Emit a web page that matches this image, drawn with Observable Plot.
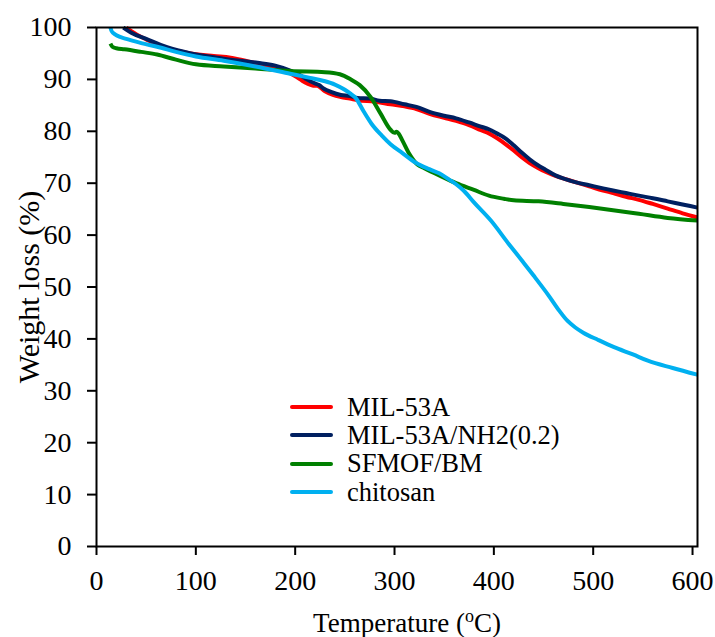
<!DOCTYPE html>
<html>
<head>
<meta charset="utf-8">
<script src="https://cdn.jsdelivr.net/npm/d3@7"></script>
<script src="https://cdn.jsdelivr.net/npm/@observablehq/plot@0.6"></script>
<style>
  body { margin: 0; background: #fff; }
  #chart { position: relative; width: 715px; height: 637px; font-family: "Liberation Serif", "Times New Roman", serif; }
  #legend { position: absolute; left: 290px; top: 393px; }
  .row { display: flex; align-items: center; height: 28.3px; font-size: 26.5px; color: #000; white-space: nowrap; }
  .sw { width: 43px; height: 4px; border-radius: 2px; margin-right: 14px; }
</style>
</head>
<body>
<div id="chart"><div id="legend"></div></div>
<script>
// Thermogravimetric curves: temperature (°C) vs remaining weight (%)
const seriesNames = ["MIL-53A", "MIL-53A/NH2(0.2)", "SFMOF/BM", "chitosan"];
const seriesColors = ["#ff0000", "#002060", "#008000", "#00b0f0"];

const milT = [30, 35, 50, 71, 95, 118, 135, 150, 162, 180, 195, 205, 212, 218, 222, 230, 238, 246, 255, 263, 280, 296, 310, 322, 336, 350, 362, 375, 387, 395, 403, 412, 420, 428, 436, 444, 452, 462, 472, 482, 496, 510, 520, 533, 546, 560, 575, 590, 605];
const milW = [100, 99.3, 97.7, 96.0, 95.0, 94.5, 94.2, 93.6, 93.0, 92.3, 91.2, 90.0, 89.2, 88.8, 88.8, 87.7, 87.0, 86.6, 86.3, 86.0, 85.7, 85.2, 84.8, 84.3, 83.3, 82.6, 82.0, 81.2, 80.2, 79.6, 78.7, 77.5, 76.3, 75.0, 73.9, 73.0, 72.2, 71.4, 70.8, 70.2, 69.4, 68.6, 68.1, 67.4, 66.8, 66.0, 65.1, 64.2, 63.4];

const nh2T = [27, 35, 50, 71, 95, 128, 162, 179, 195, 205, 212, 219, 224, 229, 236, 246, 255, 263, 275, 285, 296, 310, 322, 336, 350, 362, 375, 387, 395, 403, 412, 420, 428, 436, 444, 452, 462, 472, 482, 496, 510, 520, 533, 546, 560, 575, 590, 605];
const nh2W = [100, 99.0, 97.8, 96.2, 95.0, 94.0, 93.2, 92.7, 91.7, 90.8, 90.0, 89.3, 88.9, 88.2, 87.6, 87.0, 86.8, 86.4, 86.3, 85.9, 85.8, 85.2, 84.7, 83.7, 83.0, 82.5, 81.7, 80.9, 80.4, 79.6, 78.6, 77.3, 75.9, 74.6, 73.5, 72.6, 71.5, 70.8, 70.2, 69.6, 69.0, 68.6, 68.1, 67.6, 67.1, 66.5, 65.9, 65.3];

const sfT = [14, 16, 20, 28, 45, 61, 80, 100, 128, 160, 195, 230, 245, 256, 265, 276, 286, 296, 300, 302, 304, 308, 315, 323, 330, 345, 362, 380, 395, 410, 420, 445, 470, 496, 520, 546, 575, 605];
const sfW = [96.9, 96.3, 96.0, 95.8, 95.3, 94.8, 93.8, 92.9, 92.5, 92.1, 91.6, 91.4, 91.0, 90.0, 88.9, 86.6, 83.4, 80.3, 79.7, 79.9, 79.6, 78.2, 75.6, 73.6, 72.9, 71.5, 70.0, 68.7, 67.6, 67.0, 66.7, 66.5, 66.0, 65.4, 64.8, 64.1, 63.3, 62.8];

const chT = [14, 15, 17, 20, 30, 45, 61, 80, 100, 128, 160, 195, 215, 229, 240, 250, 256, 261, 269, 277, 287, 296, 308, 321, 335, 345, 355, 362, 370, 380, 397, 415, 429, 440, 455, 466, 474, 482, 490, 505, 521, 540, 555, 580, 605];
const chW = [100, 99.4, 98.9, 98.5, 97.8, 97.0, 96.3, 95.3, 94.4, 93.6, 92.5, 91.1, 90.3, 89.7, 89.0, 88.0, 87.2, 86.4, 83.8, 81.4, 79.2, 77.5, 75.8, 74.0, 72.7, 71.9, 70.7, 69.8, 68.5, 66.3, 62.8, 58.3, 54.9, 52.2, 48.4, 45.4, 43.5, 42.2, 41.2, 39.8, 38.4, 37.0, 35.8, 34.4, 33.1];

const xTicks = [0, 100, 200, 300, 400, 500, 600];
const yTicks = [0, 10, 20, 30, 40, 50, 60, 70, 80, 90, 100];
const xTitle = "Temperature (oC)";
const yTitle = "Weight loss (%)";

const temps = [milT, nh2T, sfT, chT];
const weights = [milW, nh2W, sfW, chW];
const rows = seriesNames.flatMap((name, i) =>
  temps[i].map((t, j) => ({series: name, t, w: weights[i][j]}))
);

const font = "'Liberation Serif', 'Times New Roman', serif";

const chart = Plot.plot({
  width: 715,
  height: 637,
  marginLeft: 96,
  marginRight: 18,
  marginTop: 27,
  marginBottom: 91,
  style: {fontFamily: font, fontSize: "28px", color: "#000", background: "#fff", overflow: "visible"},
  x: {domain: [0, 605]},
  y: {domain: [0, 100]},
  marks: [
    Plot.axisX({ticks: xTicks, tickSize: 9, tickPadding: 15, strokeWidth: 2, fontSize: 28, label: null, tickFormat: d => d}),
    Plot.axisY({ticks: yTicks, tickSize: 9, tickPadding: 16, strokeWidth: 2, fontSize: 28, label: null, tickFormat: d => d}),
    ...seriesNames.map((name, i) =>
      Plot.line(rows.filter(d => d.series === name), {
        x: "t", y: "w", stroke: seriesColors[i], strokeWidth: 4,
        curve: "monotone-x", strokeLinejoin: "round", strokeLinecap: "butt"
      })
    ),
    Plot.frame({stroke: "#000", strokeWidth: 2}),
    Plot.text([yTitle], {frameAnchor: "left", textAnchor: "middle", lineAnchor: "middle", rotate: -90, dx: -67, fontSize: 30, fill: "#000"}),
    Plot.text([xTitle], {frameAnchor: "bottom", textAnchor: "middle", lineAnchor: "middle", dx: 10, dy: 77, fontSize: 27, fill: "#000"})
  ]
});

// superscript "o" in the temperature unit
d3.select(chart).selectAll("text").filter(function() { return this.textContent === xTitle; })
  .each(function() {
    const t = d3.select(this);
    t.text(null);
    t.append("tspan").text("Temperature (");
    t.append("tspan").attr("baseline-shift", "super").attr("font-size", "18px").text("o");
    t.append("tspan").text("C)");
  });

document.getElementById("chart").prepend(chart);

const legend = d3.select("#legend");
seriesNames.forEach((name, i) => {
  const row = legend.append("div").attr("class", "row");
  row.append("div").attr("class", "sw").style("background", seriesColors[i]);
  row.append("span").text(name);
});
</script>
</body>
</html>
